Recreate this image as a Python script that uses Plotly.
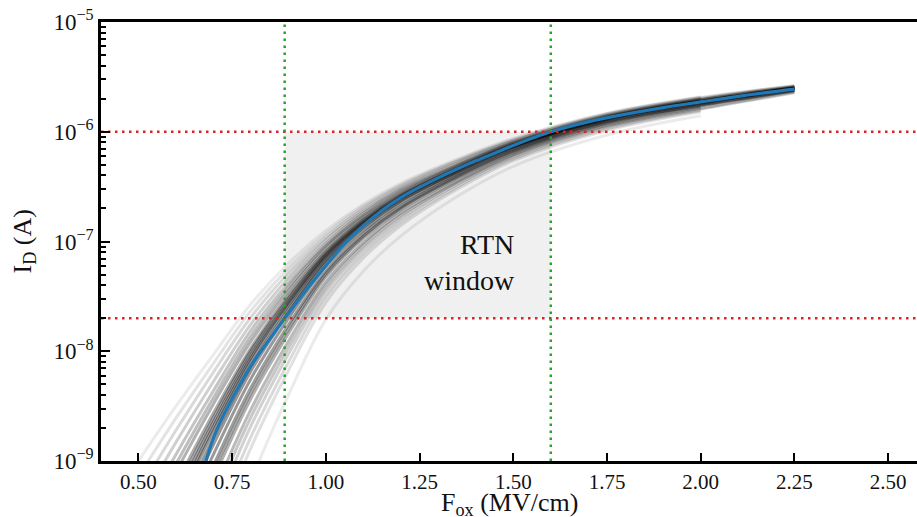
import plotly.graph_objects as go

# ---------------- data ----------------
X_RANGE = [0.4, 2.577]
Y_DECADES = [-9, -8, -7, -6, -5]

# mean I-F curve (log10 of I_D in A)
F_MEAN = [0.66, 0.68, 0.70, 0.72, 0.75, 0.80, 0.85, 0.89, 0.95, 1.00, 1.05, 1.10,
          1.15, 1.20, 1.25, 1.30, 1.35, 1.40, 1.45, 1.50, 1.55, 1.60, 1.70, 1.80,
          1.90, 2.00, 2.10, 2.25]
LOG_I_MEAN = [-9.22, -9.00, -8.79, -8.63, -8.43, -8.13, -7.89, -7.70, -7.43, -7.22,
              -7.02, -6.855, -6.715, -6.60, -6.505, -6.42, -6.34, -6.265, -6.195,
              -6.125, -6.06, -6.00, -5.91, -5.84, -5.78, -5.728, -5.677, -5.612]

# individual device curves (log10 I_D) on a common field grid
F_GRID = [0.5, 0.6, 0.7, 0.8, 0.9, 1.0, 1.1, 1.2, 1.35, 1.5, 1.75, 2.0, 2.25]
LOG_I_DEVICES = [
    [-9.00, -8.50, -8.03, -7.57, -7.20, -6.90, -6.66, -6.47, -6.25, -6.06, -5.83, -5.68, None],
    [-9.14, -8.61, -8.11, -7.63, -7.245, -6.93, -6.68, -6.486, -6.262, -6.069, -5.836, -5.686, None],
    [-9.28, -8.72, -8.19, -7.69, -7.29, -6.96, -6.70, -6.50, -6.27, -6.08, -5.84, -5.69, -5.58],
    [-9.42, -8.83, -8.276, -7.753, -7.335, -6.987, -6.723, -6.518, -6.286, -6.085, -5.848, -5.697, -5.582],
    [-9.56, -8.94, -8.36, -7.81, -7.38, -7.02, -6.74, -6.53, -6.30, -6.095, -5.854, -5.702, None],
    [-9.672, -9.028, -8.424, -7.863, -7.416, -7.039, -6.761, -6.547, -6.308, -6.101, -5.859, -5.706, -5.589],
    [-9.77, -9.10, -8.48, -7.91, -7.45, -7.06, -6.775, -6.56, -6.316, -6.107, -5.863, -5.71, -5.592],
    [-9.91, -9.215, -8.563, -7.97, -7.49, -7.09, -6.796, -6.574, -6.328, -6.115, -5.869, -5.716, None],
    [-9.98, -9.27, -8.604, -7.997, -7.515, -7.103, -6.807, -6.582, -6.334, -6.12, -5.872, -5.719, -5.598],
    [-10.05, -9.325, -8.645, -8.03, -7.54, -7.12, -6.82, -6.59, -6.34, -6.125, -5.875, -5.721, -5.60],
    [-10.12, -9.38, -8.686, -8.058, -7.56, -7.132, -6.828, -6.598, -6.346, -6.128, -5.878, -5.724, -5.602],
    [-10.19, -9.435, -8.727, -8.09, -7.582, -7.146, -6.838, -6.606, -6.352, -6.132, -5.881, -5.727, -5.604],
    [-10.30, -9.52, -8.79, -8.137, -7.618, -7.17, -6.855, -6.619, -6.362, -6.139, -5.886, -5.731, -5.607],
    [-10.40, -9.60, -8.85, -8.18, -7.65, -7.19, -6.87, -6.63, -6.37, -6.145, -5.89, -5.735, -5.61],
    [-10.50, -9.70, -8.94, -8.25, -7.70, -7.226, -6.898, -6.652, -6.385, -6.157, -5.90, -5.743, -5.615],
    [-10.63, -9.81, -9.04, -8.33, -7.76, -7.27, -6.93, -6.68, -6.40, -6.17, -5.91, -5.753, -5.62],
    [-10.70, -9.88, -9.10, -8.38, -7.80, -7.294, -6.95, -6.694, -6.414, -6.179, -5.918, -5.759, -5.624],
    [-10.78, -9.95, -9.16, -8.43, -7.84, -7.32, -6.97, -6.71, -6.425, -6.19, -5.925, -5.765, -5.63],
    [-10.93, -10.09, -9.29, -8.53, -7.91, -7.37, -7.01, -6.74, -6.45, -6.205, -5.94, -5.777, None],
    [-11.03, -10.19, -9.375, -8.60, -7.965, -7.408, -7.038, -6.764, -6.462, -6.216, -5.949, -5.785, -5.639],
    [-11.15, -10.30, -9.475, -8.68, -8.025, -7.45, -7.07, -6.79, -6.48, -6.23, -5.96, -5.795, -5.645],
    [-11.30, -10.44, -9.60, -8.78, -8.10, -7.502, -7.11, -6.822, -6.502, -6.247, -5.974, -5.807, None],
    [-11.45, -10.58, -9.725, -8.88, -8.175, -7.554, -7.15, -6.854, -6.524, -6.264, -5.988, -5.819, None],
    [-11.90, -11.00, -10.10, -9.18, -8.40, -7.71, -7.27, -6.95, -6.59, -6.315, -6.03, -5.855, None],
]

# RTN window limits
F_WINDOW = [0.89, 1.60]
I_WINDOW = [2e-8, 1e-6]

X_TICKS = [0.50, 0.75, 1.00, 1.25, 1.50, 1.75, 2.00, 2.25, 2.50]

# ---------------- style ----------------
FONT = "Liberation Serif"
GRAY_ALPHA = [0.08, 0.11, 0.15, 0.19, 0.23, 0.26, 0.30, 0.33, 0.36, 0.38, 0.40, 0.41,
              0.41, 0.41, 0.40, 0.38, 0.35, 0.31, 0.27, 0.22, 0.18, 0.15, 0.12, 0.08]
BLUE = "#1f77b4"
RED = "#d62728"
GREEN = "#2ca02c"
DOT = "2.5px,4.5px"

fig = go.Figure()

# RTN window shading
fig.add_trace(go.Scatter(
    x=[F_WINDOW[0], F_WINDOW[1], F_WINDOW[1], F_WINDOW[0], F_WINDOW[0]],
    y=[I_WINDOW[0], I_WINDOW[0], I_WINDOW[1], I_WINDOW[1], I_WINDOW[0]],
    mode="lines", fill="toself", fillcolor="#f0f0f0",
    line=dict(width=0), hoverinfo="skip", showlegend=False))

# device curves
for curve, a in zip(LOG_I_DEVICES, GRAY_ALPHA):
    fig.add_trace(go.Scatter(
        x=F_GRID, y=[None if v is None else 10 ** v for v in curve],
        mode="lines", line=dict(color=f"rgba(0,0,0,{a})", width=3, shape="spline"),
        connectgaps=False, hoverinfo="skip", showlegend=False))

# mean curve
fig.add_trace(go.Scatter(
    x=F_MEAN, y=[10 ** v for v in LOG_I_MEAN], mode="lines",
    line=dict(color=BLUE, width=3.2, shape="spline"), showlegend=False))

# threshold lines
y_lo, y_hi = 10 ** Y_DECADES[0], 10 ** Y_DECADES[-1]
for iv in I_WINDOW:
    fig.add_trace(go.Scatter(x=X_RANGE, y=[iv, iv], mode="lines",
                             line=dict(color=RED, width=2.5, dash=DOT),
                             hoverinfo="skip", showlegend=False))
for fv in F_WINDOW:
    fig.add_trace(go.Scatter(x=[fv, fv], y=[y_lo, y_hi], mode="lines",
                             line=dict(color=GREEN, width=2.5, dash=DOT),
                             hoverinfo="skip", showlegend=False))

fig.add_annotation(x=1.511, y=-7.19, xref="x", yref="y", text="RTN<br>window",
                   showarrow=False, xanchor="right", yanchor="middle", align="right",
                   font=dict(family=FONT, size=28, color="#111"))

# axis titles
fig.add_annotation(x=0, y=0.5, xref="paper", yref="paper", xshift=-78,
                   text="I<sub>D</sub> (A)", textangle=-90, showarrow=False,
                   xanchor="center", yanchor="middle",
                   font=dict(family=FONT, size=26, color="#111"))
fig.add_annotation(x=0.5, y=0, xref="paper", yref="paper", yshift=-43,
                   text="F<sub>ox</sub> (MV/cm)", showarrow=False,
                   xanchor="center", yanchor="middle",
                   font=dict(family=FONT, size=26, color="#111"))

minor_vals = [m * 10 ** e for e in Y_DECADES[:-1] for m in range(2, 10)]

fig.update_layout(
    width=917, height=517,
    margin=dict(l=101, r=0, t=22, b=56, autoexpand=False),
    paper_bgcolor="white", plot_bgcolor="white",
    font=dict(family=FONT, size=21, color="#111"),
    xaxis=dict(range=X_RANGE, tickvals=X_TICKS, ticktext=[f"{v:.2f}" for v in X_TICKS],
               ticks="inside", ticklen=8, tickwidth=2, tickcolor="black",
               showline=True, linecolor="black", linewidth=2.5, mirror=True,
               showgrid=False, zeroline=False, automargin=False),
    yaxis=dict(type="log", range=[Y_DECADES[0], Y_DECADES[-1]],
               tickvals=[10 ** e for e in Y_DECADES],
               ticktext=[f"10<sup>\u2212{abs(e)}</sup>" for e in Y_DECADES],
               tickfont=dict(size=23),
               ticks="inside", ticklen=9, tickwidth=2, tickcolor="black",
               minor=dict(tickvals=minor_vals, ticks="inside", ticklen=5, tickwidth=1.5,
                          tickcolor="black", showgrid=False),
               showline=True, linecolor="black", linewidth=2.5, mirror=False,
               showgrid=False, zeroline=False, automargin=False),
)

fig.write_html("out.html")
